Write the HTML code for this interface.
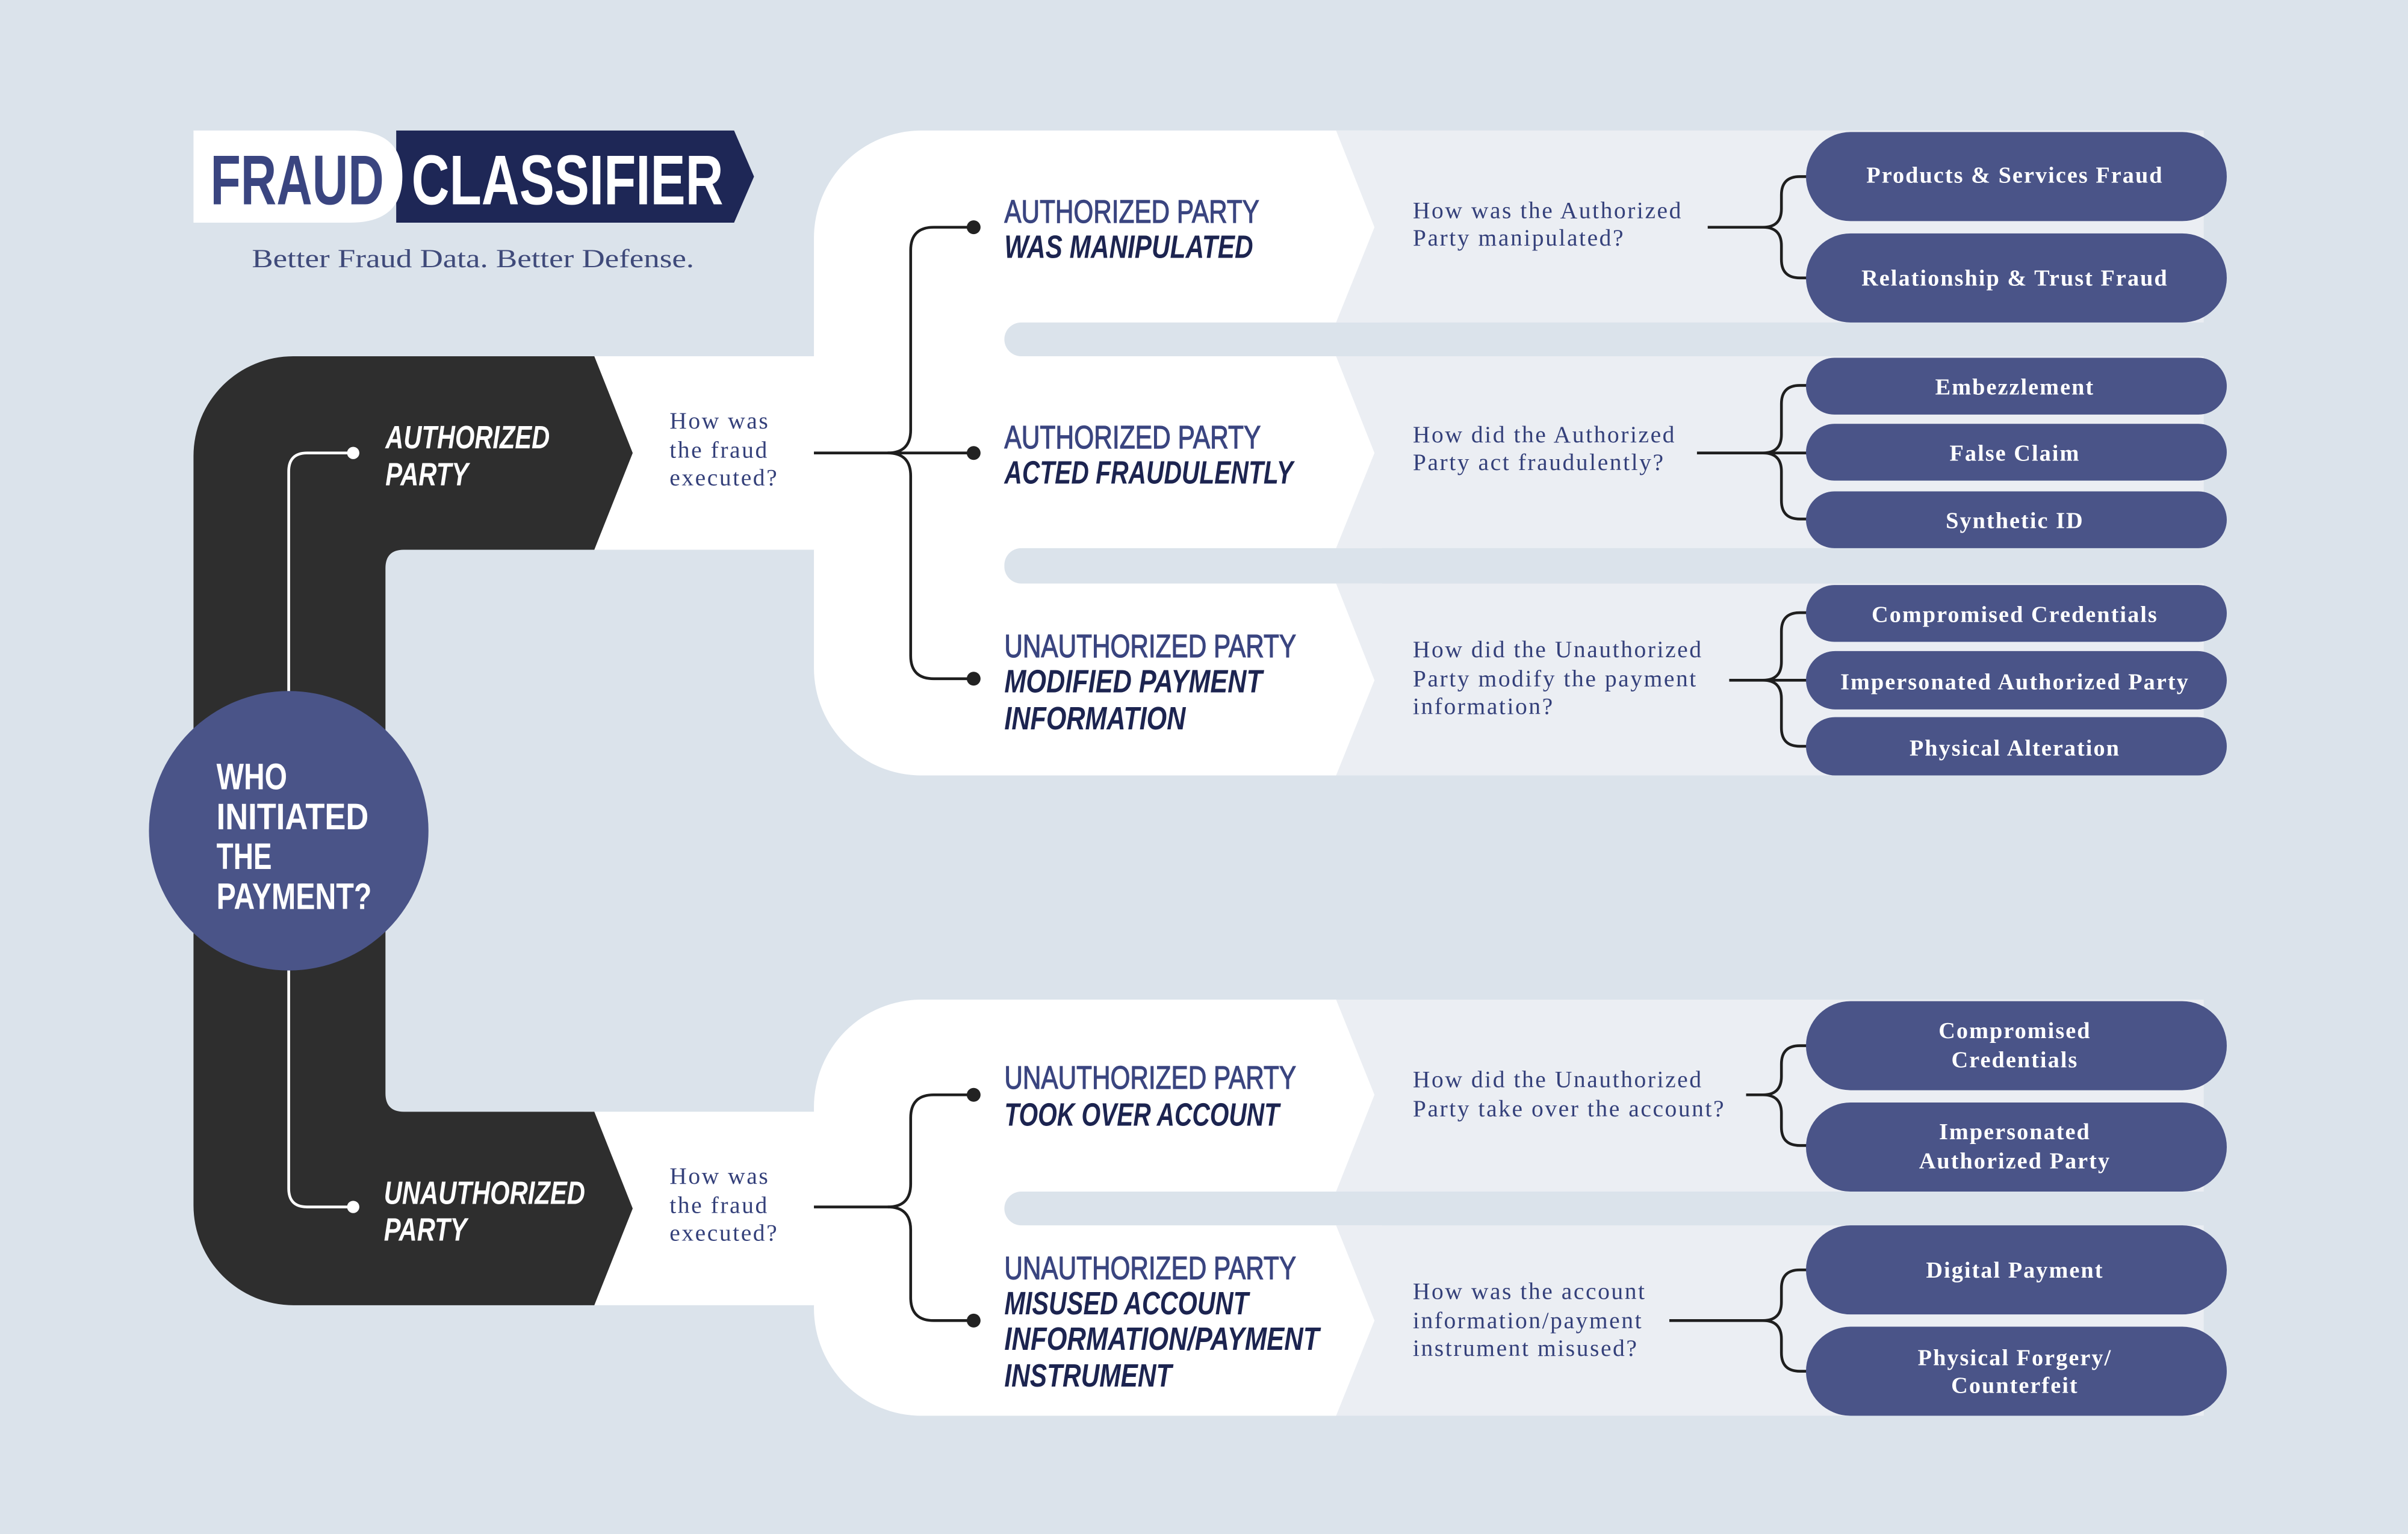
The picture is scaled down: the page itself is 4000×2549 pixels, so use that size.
<!DOCTYPE html>
<html><head><meta charset="utf-8"><style>
html,body{margin:0;padding:0;background:#dbe3eb;}
svg{display:block;}
.cond{font-family:"Liberation Sans",sans-serif;font-weight:bold;}
.q{font-family:"Liberation Serif",serif;font-size:15.5px;fill:#34407a;letter-spacing:1px;}
.pill{font-family:"Liberation Serif",serif;font-size:15px;font-weight:bold;fill:#fff;text-anchor:middle;letter-spacing:0.8px;}
.t1{fill:#3a4580;font-size:21px;font-family:"Liberation Sans",sans-serif;stroke:#3a4580;stroke-width:0.5;}
.t2{fill:#1c2450;font-size:21px;font-style:italic;font-weight:bold;font-family:"Liberation Sans",sans-serif;}
.ln{stroke:#1e1e1e;stroke-width:1.8;fill:none;}
.wl{stroke:#fff;stroke-width:1.8;fill:none;}
</style></head><body>
<svg width="4000" height="2549" viewBox="0 0 1568 999" preserveAspectRatio="none" xmlns="http://www.w3.org/2000/svg">
<rect width="1568" height="999" fill="#dbe3eb"/>

<path d="M258,85 H478 L491,115 L478,145 H258 Z" fill="#1e2756"/>
<path d="M126,85 H228 Q262,85 262,115 Q262,145 228,145 H126 Z" fill="#fff"/>
<text x="137" y="133" class="cond" font-size="46" fill="#3a4580" textLength="113" lengthAdjust="spacingAndGlyphs">FRAUD</text>
<text x="268" y="133" class="cond" font-size="46" fill="#fff" textLength="203" lengthAdjust="spacingAndGlyphs">CLASSIFIER</text>
<text x="164" y="174" font-family="Liberation Serif,serif" font-size="17" fill="#3f4a7a" textLength="288" lengthAdjust="spacingAndGlyphs">Better Fraud Data. Better Defense.</text>

<rect x="380" y="232" width="170" height="126" fill="#fff"/>
<rect x="380" y="724" width="170" height="126" fill="#fff"/>
<path d="M600,85 H900 V505 H600 A70,70 0 0 1 530,435 V155 A70,70 0 0 1 600,85 Z" fill="#fff"/>
<path d="M600,651 H900 V922 H600 A70,70 0 0 1 530,852 V721 A70,70 0 0 1 600,651 Z" fill="#fff"/>

<g fill="#ebeef3">
<path d="M870,85 H1435 V210 H870 L895,148 Z"/>
<path d="M870,232 H1435 V357 H870 L895,295 Z"/>
<path d="M870,380 H1435 V505 H870 L895,443 Z"/>
<path d="M870,651 H1435 V776 H870 L895,713 Z"/>
<path d="M870,798 H1435 V922 H870 L895,860 Z"/>
</g>
<g fill="#dbe3eb">
<rect x="654" y="210" width="800" height="22" rx="11"/>
<rect x="654" y="357" width="800" height="23" rx="11"/>
<rect x="654" y="776" width="800" height="22" rx="11"/>
</g>

<path d="M191,232 H387 L412,295 L387,358 H263 Q251,358 251,370 V712 Q251,724 263,724 H387 L412,787 L387,850 H191 A65,65 0 0 1 126,785 V297 A65,65 0 0 1 191,232 Z" fill="#2e2e2e"/>

<path class="wl" d="M188,452 V307 Q188,295 200,295 H230"/>
<path class="wl" d="M188,630 V774 Q188,786 200,786 H230"/>
<circle cx="230" cy="295" r="4" fill="#fff"/>
<circle cx="230" cy="786" r="4" fill="#fff"/>

<circle cx="188" cy="541" r="91" fill="#4a5488"/>
<g class="cond" font-size="24" fill="#fff">
<text x="141" y="514" textLength="46" lengthAdjust="spacingAndGlyphs">WHO</text>
<text x="141" y="540" textLength="99" lengthAdjust="spacingAndGlyphs">INITIATED</text>
<text x="141" y="566" textLength="36" lengthAdjust="spacingAndGlyphs">THE</text>
<text x="141" y="592" textLength="101" lengthAdjust="spacingAndGlyphs">PAYMENT?</text>
</g>

<g font-family="Liberation Sans,sans-serif" font-weight="bold" font-style="italic" font-size="21" fill="#fff">
<text x="251" y="292" textLength="107" lengthAdjust="spacingAndGlyphs">AUTHORIZED</text>
<text x="251" y="316" textLength="54" lengthAdjust="spacingAndGlyphs">PARTY</text>
<text x="250" y="784" textLength="131" lengthAdjust="spacingAndGlyphs">UNAUTHORIZED</text>
<text x="250" y="808" textLength="54" lengthAdjust="spacingAndGlyphs">PARTY</text>
</g>

<g class="q">
<text x="436" y="279">How was</text><text x="436" y="298">the fraud</text><text x="436" y="316">executed?</text>
<text x="436" y="771">How was</text><text x="436" y="790">the fraud</text><text x="436" y="808">executed?</text>
</g>

<g class="ln">
<path d="M530,295 H634"/>
<path d="M578,295 Q593,295 593,280 V163 Q593,148 608,148 H634"/>
<path d="M578,295 Q593,295 593,310 V427 Q593,442 608,442 H634"/>
<path d="M530,786 H578"/>
<path d="M578,786 Q593,786 593,771 V728 Q593,713 608,713 H634"/>
<path d="M578,786 Q593,786 593,801 V845 Q593,860 608,860 H634"/>
</g>
<g fill="#222">
<circle cx="634" cy="148" r="4.5"/><circle cx="634" cy="295" r="4.5"/><circle cx="634" cy="442" r="4.5"/>
<circle cx="634" cy="713" r="4.5"/><circle cx="634" cy="860" r="4.5"/>
</g>

<text class="t1" x="654" y="145" textLength="166" lengthAdjust="spacingAndGlyphs">AUTHORIZED PARTY</text>
<text class="t2" x="654" y="168" textLength="162" lengthAdjust="spacingAndGlyphs">WAS MANIPULATED</text>
<text class="t1" x="654" y="292" textLength="167" lengthAdjust="spacingAndGlyphs">AUTHORIZED PARTY</text>
<text class="t2" x="654" y="315" textLength="188" lengthAdjust="spacingAndGlyphs">ACTED FRAUDULENTLY</text>
<text class="t1" x="654" y="428" textLength="190" lengthAdjust="spacingAndGlyphs">UNAUTHORIZED PARTY</text>
<text class="t2" x="654" y="451" textLength="168" lengthAdjust="spacingAndGlyphs">MODIFIED PAYMENT</text>
<text class="t2" x="654" y="475" textLength="118" lengthAdjust="spacingAndGlyphs">INFORMATION</text>
<text class="t1" x="654" y="709" textLength="190" lengthAdjust="spacingAndGlyphs">UNAUTHORIZED PARTY</text>
<text class="t2" x="654" y="733" textLength="179" lengthAdjust="spacingAndGlyphs">TOOK OVER ACCOUNT</text>
<text class="t1" x="654" y="833" textLength="190" lengthAdjust="spacingAndGlyphs">UNAUTHORIZED PARTY</text>
<text class="t2" x="654" y="856" textLength="159" lengthAdjust="spacingAndGlyphs">MISUSED ACCOUNT</text>
<text class="t2" x="654" y="879" textLength="205" lengthAdjust="spacingAndGlyphs">INFORMATION/PAYMENT</text>
<text class="t2" x="654" y="903" textLength="109" lengthAdjust="spacingAndGlyphs">INSTRUMENT</text>

<g class="q">
<text x="920" y="142">How was the Authorized</text><text x="920" y="160">Party manipulated?</text>
<text x="920" y="288">How did the Authorized</text><text x="920" y="306">Party act fraudulently?</text>
<text x="920" y="428">How did the Unauthorized</text><text x="920" y="447">Party modify the payment</text><text x="920" y="465">information?</text>
<text x="920" y="708">How did the Unauthorized</text><text x="920" y="727">Party take over the account?</text>
<text x="920" y="846">How was the account</text><text x="920" y="865">information/payment</text><text x="920" y="883">instrument misused?</text>
</g>

<g class="ln">
<path d="M1112,148 H1148 Q1160,148 1160,136 V127 Q1160,115 1172,115 H1178 M1148,148 Q1160,148 1160,160 V169 Q1160,181 1172,181 H1178"/>
<path d="M1105,295 H1178 M1148,295 Q1160,295 1160,283 V263 Q1160,251 1172,251 H1178 M1148,295 Q1160,295 1160,307 V326 Q1160,338 1172,338 H1178"/>
<path d="M1126,443 H1178 M1148,443 Q1160,443 1160,431 V411 Q1160,399 1172,399 H1178 M1148,443 Q1160,443 1160,455 V474 Q1160,486 1172,486 H1178"/>
<path d="M1137,713 H1148 Q1160,713 1160,701 V693 Q1160,681 1172,681 H1178 M1148,713 Q1160,713 1160,725 V734 Q1160,746 1172,746 H1178"/>
<path d="M1087,860 H1148 Q1160,860 1160,848 V839 Q1160,827 1172,827 H1178 M1148,860 Q1160,860 1160,872 V881 Q1160,893 1172,893 H1178"/>
</g>

<g fill="#4a5488">
<rect x="1176" y="86" width="274" height="58" rx="29"/>
<rect x="1176" y="152" width="274" height="58" rx="29"/>
<rect x="1176" y="233" width="274" height="37" rx="18.5"/>
<rect x="1176" y="276" width="274" height="37" rx="18.5"/>
<rect x="1176" y="320" width="274" height="37" rx="18.5"/>
<rect x="1176" y="381" width="274" height="37" rx="18.5"/>
<rect x="1176" y="424" width="274" height="38" rx="19"/>
<rect x="1176" y="467" width="274" height="38" rx="19"/>
<rect x="1176" y="652" width="274" height="58" rx="29"/>
<rect x="1176" y="718" width="274" height="58" rx="29"/>
<rect x="1176" y="798" width="274" height="58" rx="29"/>
<rect x="1176" y="864" width="274" height="58" rx="29"/>
</g>
<g class="pill">
<text x="1312" y="119">Products &amp; Services Fraud</text>
<text x="1312" y="186">Relationship &amp; Trust Fraud</text>
<text x="1312" y="257">Embezzlement</text>
<text x="1312" y="300">False Claim</text>
<text x="1312" y="344">Synthetic ID</text>
<text x="1312" y="405">Compromised Credentials</text>
<text x="1312" y="449">Impersonated Authorized Party</text>
<text x="1312" y="492">Physical Alteration</text>
<text x="1312" y="676">Compromised</text><text x="1312" y="695">Credentials</text>
<text x="1312" y="742">Impersonated</text><text x="1312" y="761">Authorized Party</text>
<text x="1312" y="832">Digital Payment</text>
<text x="1312" y="889">Physical Forgery/</text><text x="1312" y="907">Counterfeit</text>
</g>
</svg>
</body></html>
